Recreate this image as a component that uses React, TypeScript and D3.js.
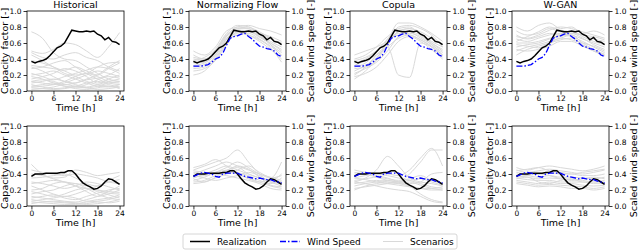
import React, { useRef, useEffect } from "react";
import * as d3 from "d3";

// figure size
const width = 640;
const height = 251;

// x values and tick labels
const hours = [0, 1, 2, 3, 4, 5, 6, 7, 8, 9, 10, 11, 12, 13, 14, 15, 16, 17, 18, 19, 20, 21, 22, 23, 24];
const scenHours = [0, 3, 6, 9, 12, 15, 18, 21, 24];
const xTicks = [0, 6, 12, 18, 24];
const yTicks = [0, 0.2, 0.4, 0.6, 0.8, 1.0];
const titles = ["Historical", "Normalizing Flow", "Copula", "W-GAN"];
const legendLabels = ["Realization", "Wind Speed", "Scenarios"];

// realization and wind speed (hourly)
const realTop = [0.37, 0.35, 0.37, 0.38, 0.4, 0.44, 0.49, 0.54, 0.56, 0.6, 0.68, 0.76, 0.75, 0.74, 0.74, 0.75, 0.74, 0.75, 0.71, 0.69, 0.64, 0.67, 0.62, 0.61, 0.58];
const windTop = [0.31, 0.31, 0.31, 0.32, 0.33, 0.36, 0.4, 0.42, 0.47, 0.57, 0.66, 0.68, 0.69, 0.71, 0.72, 0.68, 0.65, 0.6, 0.56, 0.55, 0.53, 0.52, 0.5, 0.45, 0.43];
const realBottom = [0.37, 0.4, 0.4, 0.4, 0.41, 0.41, 0.41, 0.41, 0.42, 0.42, 0.44, 0.44, 0.4, 0.34, 0.29, 0.26, 0.24, 0.21, 0.22, 0.25, 0.3, 0.34, 0.33, 0.3, 0.27];
const windBottom = [0.37, 0.39, 0.41, 0.42, 0.41, 0.4, 0.37, 0.36, 0.4, 0.41, 0.41, 0.41, 0.41, 0.39, 0.37, 0.36, 0.35, 0.34, 0.35, 0.34, 0.33, 0.33, 0.31, 0.3, 0.29];

// scenarios (every 3 h)
const histTop = [
  [0.74, 0.66, 0.48, 0.4, 0.38, 0.3, 0.22, 0.15, 0.12],
  [0.5, 0.47, 0.52, 0.6, 0.58, 0.5, 0.42, 0.55, 0.73],
  [0.48, 0.42, 0.4, 0.45, 0.48, 0.42, 0.38, 0.3, 0.25],
  [0.45, 0.38, 0.3, 0.25, 0.2, 0.22, 0.3, 0.35, 0.36],
  [0.32, 0.3, 0.28, 0.26, 0.3, 0.25, 0.2, 0.28, 0.35],
  [0.3, 0.25, 0.18, 0.12, 0.1, 0.15, 0.2, 0.3, 0.38],
  [0.28, 0.3, 0.35, 0.38, 0.3, 0.22, 0.15, 0.1, 0.08],
  [0.2, 0.22, 0.25, 0.2, 0.15, 0.1, 0.06, 0.05, 0.08],
  [0.15, 0.18, 0.22, 0.28, 0.25, 0.18, 0.1, 0.15, 0.2],
  [0.12, 0.1, 0.08, 0.1, 0.15, 0.2, 0.25, 0.22, 0.18],
  [0.1, 0.12, 0.15, 0.12, 0.08, 0.05, 0.08, 0.12, 0.15],
  [0.08, 0.05, 0.03, 0.04, 0.06, 0.1, 0.12, 0.08, 0.05],
  [0.05, 0.06, 0.08, 0.12, 0.18, 0.22, 0.18, 0.12, 0.1],
  [0.04, 0.03, 0.02, 0.03, 0.05, 0.04, 0.06, 0.1, 0.12],
  [0.02, 0.03, 0.05, 0.08, 0.06, 0.04, 0.02, 0.03, 0.05],
  [0.12, 0.14, 0.12, 0.08, 0.1, 0.14, 0.16, 0.2, 0.28],
  [0.22, 0.18, 0.14, 0.18, 0.22, 0.26, 0.3, 0.28, 0.22],
  [0.38, 0.35, 0.3, 0.22, 0.18, 0.12, 0.08, 0.06, 0.04],
  [0.06, 0.08, 0.1, 0.06, 0.03, 0.02, 0.04, 0.06, 0.03],
  [0.18, 0.15, 0.1, 0.06, 0.05, 0.08, 0.14, 0.18, 0.16],
];
const histBottom = [
  [0.52, 0.4, 0.35, 0.36, 0.45, 0.42, 0.38, 0.4, 0.42],
  [0.45, 0.42, 0.4, 0.38, 0.4, 0.38, 0.35, 0.3, 0.28],
  [0.35, 0.36, 0.38, 0.4, 0.35, 0.28, 0.25, 0.32, 0.38],
  [0.3, 0.28, 0.25, 0.22, 0.25, 0.3, 0.28, 0.24, 0.2],
  [0.25, 0.2, 0.15, 0.12, 0.15, 0.2, 0.25, 0.3, 0.33],
  [0.2, 0.22, 0.28, 0.3, 0.25, 0.18, 0.12, 0.15, 0.2],
  [0.18, 0.15, 0.12, 0.15, 0.2, 0.22, 0.18, 0.14, 0.1],
  [0.12, 0.1, 0.08, 0.06, 0.05, 0.08, 0.12, 0.18, 0.25],
  [0.08, 0.06, 0.05, 0.04, 0.03, 0.05, 0.06, 0.08, 0.12],
  [0.05, 0.04, 0.03, 0.02, 0.02, 0.03, 0.05, 0.04, 0.06],
  [0.03, 0.05, 0.06, 0.05, 0.04, 0.02, 0.03, 0.05, 0.08],
  [0.1, 0.12, 0.14, 0.1, 0.08, 0.12, 0.16, 0.2, 0.22],
  [0.15, 0.18, 0.2, 0.25, 0.28, 0.22, 0.15, 0.1, 0.08],
  [0.28, 0.3, 0.32, 0.3, 0.28, 0.25, 0.2, 0.16, 0.15],
  [0.06, 0.08, 0.1, 0.12, 0.1, 0.06, 0.08, 0.1, 0.14],
  [0.4, 0.38, 0.34, 0.3, 0.25, 0.22, 0.2, 0.18, 0.17],
];
const flowTop = [
  [0.5, 0.45, 0.55, 0.75, 0.8, 0.82, 0.78, 0.75, 0.7],
  [0.45, 0.4, 0.5, 0.7, 0.78, 0.78, 0.72, 0.65, 0.6],
  [0.4, 0.38, 0.48, 0.68, 0.75, 0.74, 0.7, 0.62, 0.55],
  [0.35, 0.36, 0.45, 0.66, 0.72, 0.76, 0.68, 0.6, 0.5],
  [0.3, 0.33, 0.42, 0.62, 0.7, 0.72, 0.65, 0.56, 0.45],
  [0.25, 0.28, 0.38, 0.58, 0.74, 0.7, 0.62, 0.52, 0.4],
  [0.2, 0.25, 0.4, 0.6, 0.78, 0.8, 0.7, 0.58, 0.48],
  [0.38, 0.42, 0.52, 0.72, 0.82, 0.8, 0.74, 0.66, 0.58],
  [0.32, 0.35, 0.46, 0.64, 0.76, 0.75, 0.67, 0.6, 0.52],
  [0.42, 0.4, 0.5, 0.7, 0.76, 0.74, 0.72, 0.68, 0.62],
  [0.28, 0.3, 0.44, 0.65, 0.73, 0.7, 0.64, 0.54, 0.36],
  [0.36, 0.38, 0.5, 0.68, 0.8, 0.78, 0.68, 0.58, 0.44],
];
const flowBottom = [
  [0.45, 0.5, 0.55, 0.6, 0.7, 0.55, 0.4, 0.3, 0.3],
  [0.4, 0.45, 0.5, 0.55, 0.5, 0.45, 0.4, 0.35, 0.55],
  [0.35, 0.4, 0.45, 0.5, 0.45, 0.4, 0.35, 0.3, 0.28],
  [0.3, 0.32, 0.38, 0.42, 0.4, 0.35, 0.3, 0.25, 0.22],
  [0.42, 0.4, 0.42, 0.45, 0.48, 0.4, 0.35, 0.32, 0.4],
  [0.38, 0.35, 0.32, 0.35, 0.38, 0.42, 0.38, 0.3, 0.25],
  [0.28, 0.3, 0.35, 0.4, 0.45, 0.5, 0.42, 0.35, 0.3],
  [0.48, 0.52, 0.58, 0.5, 0.42, 0.38, 0.32, 0.28, 0.35],
  [0.36, 0.38, 0.4, 0.38, 0.35, 0.32, 0.28, 0.22, 0.2],
  [0.32, 0.36, 0.42, 0.48, 0.55, 0.48, 0.4, 0.36, 0.32],
  [0.44, 0.42, 0.4, 0.44, 0.5, 0.46, 0.36, 0.26, 0.24],
  [0.34, 0.3, 0.36, 0.44, 0.4, 0.34, 0.3, 0.34, 0.38],
];
const copulaTop = [
  [0.15, 0.25, 0.4, 0.62, 0.85, 0.85, 0.8, 0.72, 0.62],
  [0.2, 0.3, 0.45, 0.6, 0.8, 0.82, 0.78, 0.7, 0.55],
  [0.25, 0.32, 0.42, 0.58, 0.75, 0.78, 0.72, 0.6, 0.5],
  [0.3, 0.35, 0.48, 0.65, 0.78, 0.8, 0.7, 0.62, 0.55],
  [0.35, 0.4, 0.5, 0.64, 0.7, 0.72, 0.68, 0.58, 0.48],
  [0.4, 0.45, 0.55, 0.68, 0.76, 0.74, 0.66, 0.58, 0.45],
  [0.45, 0.5, 0.55, 0.62, 0.72, 0.7, 0.64, 0.56, 0.44],
  [0.28, 0.3, 0.38, 0.55, 0.2, 0.17, 0.6, 0.55, 0.45],
  [0.22, 0.28, 0.36, 0.5, 0.68, 0.74, 0.7, 0.6, 0.52],
  [0.32, 0.38, 0.45, 0.55, 0.66, 0.7, 0.64, 0.55, 0.42],
  [0.18, 0.22, 0.3, 0.45, 0.62, 0.68, 0.62, 0.52, 0.4],
  [0.38, 0.42, 0.5, 0.6, 0.74, 0.78, 0.74, 0.66, 0.58],
];
const copulaBottom = [
  [0.3, 0.35, 0.45, 0.62, 0.5, 0.35, 0.3, 0.28, 0.25],
  [0.35, 0.38, 0.4, 0.4, 0.38, 0.45, 0.6, 0.72, 0.5],
  [0.25, 0.28, 0.3, 0.32, 0.3, 0.4, 0.55, 0.7, 0.7],
  [0.4, 0.4, 0.38, 0.35, 0.3, 0.25, 0.15, 0.08, 0.05],
  [0.3, 0.28, 0.25, 0.22, 0.2, 0.18, 0.12, 0.06, 0.04],
  [0.2, 0.25, 0.28, 0.3, 0.28, 0.25, 0.22, 0.2, 0.2],
  [0.35, 0.33, 0.3, 0.28, 0.26, 0.24, 0.22, 0.22, 0.24],
  [0.42, 0.4, 0.36, 0.32, 0.3, 0.28, 0.3, 0.4, 0.42],
  [0.28, 0.3, 0.32, 0.3, 0.28, 0.3, 0.26, 0.22, 0.2],
  [0.45, 0.42, 0.4, 0.38, 0.35, 0.32, 0.28, 0.24, 0.22],
  [0.22, 0.24, 0.26, 0.28, 0.3, 0.32, 0.34, 0.3, 0.26],
  [0.32, 0.34, 0.36, 0.34, 0.32, 0.34, 0.38, 0.32, 0.28],
];
const ganTop = [
  [0.8, 0.75, 0.82, 0.85, 0.78, 0.8, 0.72, 0.75, 0.7],
  [0.75, 0.7, 0.72, 0.78, 0.74, 0.72, 0.7, 0.65, 0.62],
  [0.7, 0.65, 0.68, 0.72, 0.7, 0.75, 0.68, 0.62, 0.58],
  [0.65, 0.62, 0.66, 0.7, 0.72, 0.7, 0.65, 0.6, 0.55],
  [0.6, 0.6, 0.62, 0.66, 0.68, 0.72, 0.66, 0.58, 0.52],
  [0.55, 0.58, 0.6, 0.65, 0.7, 0.68, 0.62, 0.55, 0.48],
  [0.5, 0.55, 0.58, 0.62, 0.66, 0.7, 0.6, 0.52, 0.46],
  [0.45, 0.52, 0.56, 0.6, 0.64, 0.66, 0.58, 0.5, 0.45],
  [0.68, 0.66, 0.7, 0.76, 0.8, 0.78, 0.74, 0.7, 0.66],
  [0.58, 0.56, 0.54, 0.6, 0.66, 0.64, 0.6, 0.56, 0.5],
  [0.62, 0.68, 0.74, 0.8, 0.76, 0.74, 0.7, 0.68, 0.64],
  [0.52, 0.5, 0.52, 0.56, 0.62, 0.62, 0.56, 0.5, 0.44],
];
const ganBottom = [
  [0.48, 0.45, 0.48, 0.5, 0.48, 0.46, 0.44, 0.46, 0.5],
  [0.45, 0.42, 0.44, 0.46, 0.44, 0.42, 0.4, 0.42, 0.45],
  [0.42, 0.4, 0.4, 0.42, 0.4, 0.4, 0.38, 0.38, 0.4],
  [0.4, 0.38, 0.36, 0.38, 0.36, 0.36, 0.35, 0.34, 0.36],
  [0.38, 0.36, 0.34, 0.35, 0.34, 0.33, 0.32, 0.3, 0.32],
  [0.35, 0.33, 0.32, 0.32, 0.3, 0.3, 0.3, 0.28, 0.28],
  [0.32, 0.3, 0.28, 0.3, 0.28, 0.28, 0.26, 0.25, 0.26],
  [0.3, 0.28, 0.26, 0.27, 0.26, 0.25, 0.24, 0.22, 0.24],
  [0.28, 0.26, 0.24, 0.25, 0.24, 0.22, 0.22, 0.2, 0.22],
  [0.44, 0.46, 0.48, 0.44, 0.42, 0.4, 0.42, 0.44, 0.46],
  [0.36, 0.38, 0.4, 0.38, 0.34, 0.32, 0.34, 0.36, 0.34],
  [0.34, 0.36, 0.3, 0.28, 0.32, 0.34, 0.3, 0.3, 0.3],
];

const scenarios = [
  [histTop, flowTop, copulaTop, ganTop],
  [histBottom, flowBottom, copulaBottom, ganBottom],
];
const realization = [realTop, realBottom];
const windSpeed = [windTop, windBottom];

// layout
const panelLeft = [27, 189, 350, 512];
const panelTop = [11, 126];
const pw = 97;
const ph = 80;

const font = "DejaVu Sans";
const gray = "#d9d9d9";
const blue = "#0000ff";
const dash = "6,2,1.5,2";

const App = () => {
  const container = useRef(null);

  useEffect(() => {
    const svg = d3.select(container.current);
    svg.selectAll("*").remove();

    const x = d3.scaleLinear().domain([-1.2, 25.2]).range([0, pw]);
    const y = d3.scaleLinear().domain([0, 1]).range([ph, 0]);

    const scenLine = d3
      .line<number>()
      .x((d, i) => x(scenHours[i]))
      .y((d) => y(d))
      .curve(d3.curveMonotoneX);
    const hourLine = d3
      .line<number>()
      .x((d, i) => x(hours[i]))
      .y((d) => y(d));

    const styleAxis = (g, anchor) => {
      g.select(".domain").remove();
      g.selectAll("line").attr("stroke", "#000").attr("stroke-width", 0.8);
      g.selectAll("text")
        .attr("fill", "#000")
        .style("font-family", font)
        .style("font-size", "7.5px");
      if (anchor) g.selectAll("text").attr("text-anchor", anchor);
    };

    for (let r = 0; r < 2; r++) {
      for (let c = 0; c < 4; c++) {
        const g = svg
          .append("g")
          .attr("transform", `translate(${panelLeft[c]},${panelTop[r]})`);

        // scenarios
        g.selectAll(".scen")
          .data(scenarios[r][c])
          .enter()
          .append("path")
          .attr("d", (d) => scenLine(d))
          .attr("fill", "none")
          .attr("stroke", gray)
          .attr("stroke-width", 1);

        // realization
        g.append("path")
          .attr("d", hourLine(realization[r]))
          .attr("fill", "none")
          .attr("stroke", "#000")
          .attr("stroke-width", 1.5);

        // wind speed on twin axis
        if (c > 0) {
          g.append("path")
            .attr("d", hourLine(windSpeed[r]))
            .attr("fill", "none")
            .attr("stroke", blue)
            .attr("stroke-width", 1.3)
            .attr("stroke-dasharray", dash);
        }

        // frame
        g.append("rect")
          .attr("width", pw)
          .attr("height", ph)
          .attr("fill", "none")
          .attr("stroke", "#000")
          .attr("stroke-width", 0.8);

        // axes
        g.append("g")
          .call(
            d3.axisLeft(y).tickValues(yTicks).tickFormat(d3.format(".1f")).tickSize(3.5).tickPadding(2)
          )
          .call((a) => styleAxis(a, "end"));
        g.append("g")
          .attr("transform", `translate(0,${ph})`)
          .call(d3.axisBottom(x).tickValues(xTicks).tickSize(3.5).tickPadding(1.5))
          .call((a) => styleAxis(a, null));
        if (c > 0) {
          g.append("g")
            .attr("transform", `translate(${pw},0)`)
            .call(
              d3.axisRight(y).tickValues(yTicks).tickFormat(d3.format(".1f")).tickSize(3.5).tickPadding(2)
            )
            .call((a) => styleAxis(a, "start"));
          g.append("text")
            .attr("transform", `translate(${pw + 25},${ph / 2}) rotate(-90)`)
            .attr("text-anchor", "middle")
            .attr("dy", "0.35em")
            .style("font-family", font)
            .style("font-size", "9.5px")
            .text("Scaled wind speed [-]");
        }

        // labels
        g.append("text")
          .attr("transform", `translate(-22,${ph / 2}) rotate(-90)`)
          .attr("text-anchor", "middle")
          .attr("dy", "0.35em")
          .style("font-family", font)
          .style("font-size", "9.5px")
          .text("Capacity factor [-]");
        g.append("text")
          .attr("x", pw / 2)
          .attr("y", ph + 20)
          .attr("text-anchor", "middle")
          .style("font-family", font)
          .style("font-size", "9.5px")
          .text("Time [h]");
        if (r === 0) {
          g.append("text")
            .attr("x", pw / 2)
            .attr("y", -3)
            .attr("text-anchor", "middle")
            .style("font-family", font)
            .style("font-size", "9.5px")
            .text(titles[c]);
        }
      }
    }

    // legend
    const legend = svg.append("g").attr("transform", "translate(183,234)");
    legend
      .append("rect")
      .attr("width", 274)
      .attr("height", 15)
      .attr("rx", 2)
      .attr("fill", "#fff")
      .attr("stroke", "#cccccc")
      .attr("stroke-width", 0.8);
    const items = [
      { x: 7, color: "#000", w: 1.5, dash: null },
      { x: 97, color: blue, w: 1.3, dash: dash },
      { x: 200, color: gray, w: 1, dash: null },
    ];
    items.forEach((it, i) => {
      legend
        .append("line")
        .attr("x1", it.x)
        .attr("x2", it.x + 20)
        .attr("y1", 7.5)
        .attr("y2", 7.5)
        .attr("stroke", it.color)
        .attr("stroke-width", it.w)
        .attr("stroke-dasharray", it.dash);
      legend
        .append("text")
        .attr("x", it.x + 27)
        .attr("y", 7.5)
        .attr("dy", "0.35em")
        .style("font-family", font)
        .style("font-size", "9px")
        .text(legendLabels[i]);
    });
  }, []);

  return (
    <svg
      ref={container}
      width={width}
      height={height}
      style={{ position: "absolute", left: 0, top: 0, background: "#fff" }}
    />
  );
};

export default App;
